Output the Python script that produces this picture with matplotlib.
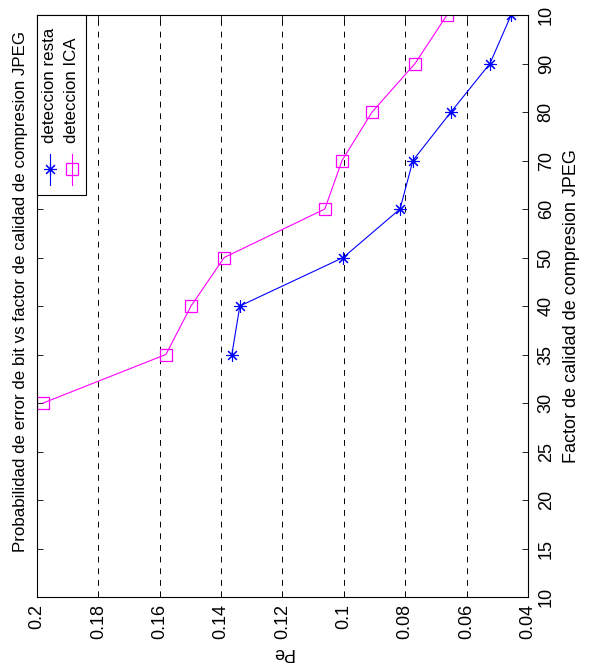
import matplotlib.pyplot as plt
from matplotlib.patches import Rectangle

plt.rcParams['font.family'] = ['Liberation Sans', 'DejaVu Sans']

quality_labels = ['10', '15', '20', '25', '30', '35', '40', '50', '60', '70', '80', '90', '10']
pe_ticks = [0.2, 0.18, 0.16, 0.14, 0.12, 0.1, 0.08, 0.06, 0.04]

# positions on the quality axis (categorical, 1..13)
resta_pos = [6, 7, 8, 9, 10, 11, 12, 13]
resta_pe = [0.1365, 0.1339, 0.1002, 0.0817, 0.0775, 0.0651, 0.0524, 0.0455]

ica_pos = [5, 6, 7, 8, 9, 10, 11, 12, 13]
ica_pe = [0.198, 0.158, 0.1498, 0.139, 0.1062, 0.1006, 0.0908, 0.0768, 0.0664]

star = (8, 2, 0)  # matlab style asterisk

fig = plt.figure(figsize=(5.91, 6.64), dpi=100)
ax = fig.add_axes([0.0626, 0.1009, 0.8308, 0.8765])

ax.plot(resta_pe, resta_pos, color='blue', lw=0.8, marker=star, ms=9, mew=0.8)
ax.plot(ica_pe, ica_pos, color='magenta', lw=0.8, marker='s', ms=8.5, mfc='none', mew=0.9)

ax.set_xlim(0.2, 0.04)
ax.set_ylim(1, 13)
ax.set_xticks(pe_ticks)
ax.set_xticklabels([('%g' % v) for v in pe_ticks], rotation=90)
ax.set_yticks(range(1, 14))
ax.set_yticklabels(quality_labels, rotation=90, va='center')
ax.yaxis.tick_right()
ax.tick_params(direction='in', length=4, width=0.6, labelsize=13, pad=5,
               top=True, bottom=True, left=True, right=True)
ax.tick_params(axis='y', labelleft=False, labelright=True, pad=7)
for s in ax.spines.values():
    s.set_linewidth(0.8)

for v in pe_ticks[1:-1]:
    ax.axvline(v, color='black', lw=0.7, linestyle=(0, (6, 6)), zorder=0)

ax.text(0.5, -0.095, 'Pe', transform=ax.transAxes, rotation=180,
        ha='center', va='center', fontsize=13)
ax.text(1.088, 0.5, 'Factor de calidad de compresion JPEG', transform=ax.transAxes,
        rotation=90, ha='center', va='center', fontsize=13)
fig.text(0.034, 0.5617, 'Probabilidad de error de bit vs factor de calidad de compresion JPEG',
         rotation=90, ha='center', va='center', fontsize=12.2)

# legend drawn by hand, rotated with the rest of the plot
ax.add_patch(Rectangle((0, 0.691), 0.1, 0.309, transform=ax.transAxes,
                       facecolor='white', edgecolor='black', lw=0.8, zorder=5, clip_on=False))
ax.plot([0.026, 0.026], [0.708, 0.762], transform=ax.transAxes, color='blue', lw=0.8, zorder=6)
ax.plot([0.026], [0.735], transform=ax.transAxes, color='blue', marker=star, ms=9, mew=0.8, zorder=6)
ax.plot([0.071, 0.071], [0.708, 0.762], transform=ax.transAxes, color='magenta', lw=0.8, zorder=6)
ax.plot([0.071], [0.735], transform=ax.transAxes, color='magenta', marker='s', ms=8.5,
        mfc='none', mew=0.9, zorder=6)
ax.text(0.026, 0.78, 'deteccion resta', transform=ax.transAxes, rotation=90,
        ha='center', va='bottom', fontsize=12.2, zorder=6)
ax.text(0.071, 0.78, 'deteccion ICA', transform=ax.transAxes, rotation=90,
        ha='center', va='bottom', fontsize=12.2, zorder=6)

fig.savefig('out.png', dpi=100)
